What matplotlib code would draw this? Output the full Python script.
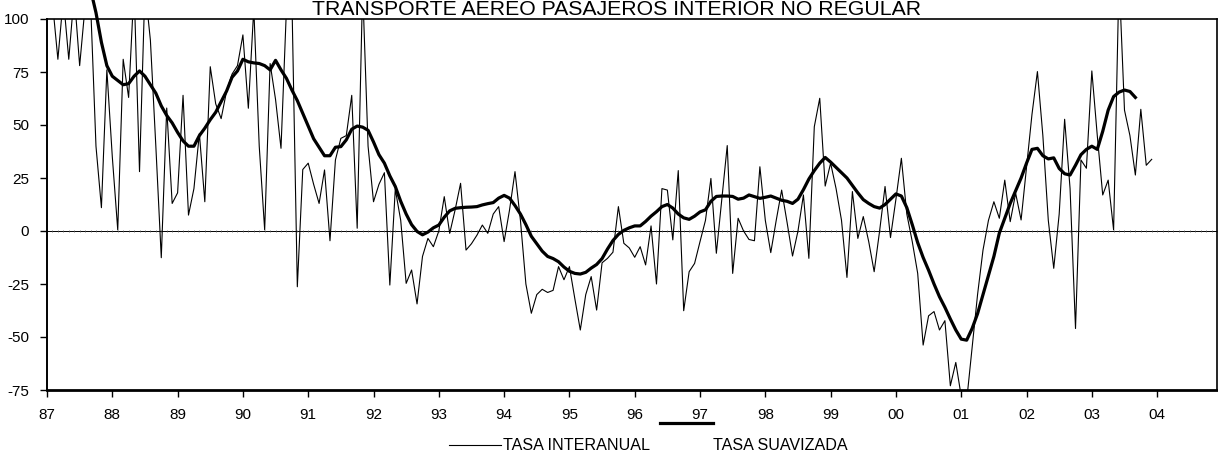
import numpy as np
import matplotlib
matplotlib.use("Agg")
import matplotlib.pyplot as plt
from matplotlib.lines import Line2D

plt.rcParams['font.family'] = ['Liberation Sans', 'DejaVu Sans']

# tasa interanual mensual, ene-87 .. dic-03
tasa_interanual = [
    112, 108, 81, 110, 81, 112, 78, 106, 108, 40,
    11, 76, 35, 0.5, 81, 63, 115, 28, 115, 90,
    40, -12.6, 58, 13, 18, 64, 7.5, 20, 46, 13.8,
    77.5, 60, 53, 66, 74, 78, 92.5, 57.9, 105, 40,
    0.5, 79, 62, 39, 105, 110, -26.3, 29, 32, 22,
    13, 28.8, -4.6, 33.5, 43.7, 45, 64, 1.3, 115, 40,
    13.8, 22, 27.5, -25.5, 19.7, 5, -24.7, -18.4, -34.4, -12,
    -3.5, -7.4, 0, 16.2, -1.1, 10, 22.5, -9, -6, -2,
    2.8, -1.1, 8, 11.5, -5, 10, 28, 5, -25, -38.8,
    -30, -27.5, -29, -28, -16.8, -23, -16.8, -32, -46.7, -30,
    -21.5, -37.3, -15, -12.9, -10, 11.5, -5.8, -8, -12.4, -7.4,
    -16, 2.4, -25, 20, 19.3, -4.2, 28.5, -37.6, -19.2, -15.3,
    -5, 5, 24.8, -10.5, 15, 40.3, -20, 6, 0, -4,
    -4.6, 30.3, 5, -10.2, 5, 19.3, 4, -11.8, 0, 17,
    -12.9, 49.2, 62.6, 21.2, 32, 20, 5, -21.9, 18.6, -3.5,
    6.8, -5, -19.2, 0, 21, -3.1, 15, 34.3, 8, -5,
    -20, -53.8, -40, -38, -46.7, -42.3, -73, -62, -78, -80,
    -55, -30, -9, 5, 13.8, 6, 24, 4.4, 17.8, 5.2,
    30, 55, 75.2, 45, 5, -17.6, 8, 52.7, 20, -46,
    33.5, 29.6, 75.5, 45, 17, 24, 0.5, 120, 57, 45,
    26.4, 57.4, 31, 33.8,
]

# tasa suavizada, desde ago-87 hasta sep-03
inicio_suavizada = 7
tasa_suavizada = [
    125, 114, 103, 89, 78, 73, 71, 69, 69.5, 73,
    75.5, 73, 69, 65, 59, 54.5, 51, 46.5, 42.5, 40,
    40, 45, 48.5, 52.5, 56, 61, 66, 72.5, 75.5, 81,
    79.8, 79.3, 79, 78, 76, 80.5, 76, 72, 66.5, 61.5,
    55.5, 49.5, 43.5, 39.5, 35.5, 35.5, 39.5, 39.8, 43, 48,
    49.5, 49, 47.5, 42, 36, 32, 26, 21, 14, 8,
    3, -0.2, -1.8, -0.5, 1.5, 2.8, 6.5, 9.5, 10.7, 11,
    11.2, 11.3, 11.5, 12.3, 12.9, 13.4, 15.5, 16.8, 15.5, 12,
    8, 3, -2.5, -6, -9.5, -12, -13, -14.5, -17, -19,
    -20, -20.3, -19.5, -17.5, -15.8, -13, -8.5, -4.5, -1.6, 0.3,
    1.5, 2.4, 2.4, 4.5, 7, 9.1, 11.5, 12.5, 10.8, 8,
    6.2, 5.5, 7, 9, 10, 14, 16.3, 16.5, 16.5, 16.3,
    15, 15.5, 17, 16.2, 15.4, 15.9, 16.5, 15.5, 14.5, 14,
    13, 15, 19.5, 24.5, 28.5, 32, 34.7, 32.5, 30, 27.5,
    25, 21.5, 18, 14.8, 13, 11.5, 10.8, 12.5, 15, 17.5,
    16.5, 11, 3, -5.5, -12.5, -18.5, -25, -31, -36, -41.5,
    -46.7, -51, -51.5, -46, -39, -30, -21, -12, -1, 6,
    13, 19, 25, 32, 38.5, 39, 35.5, 34, 34.5, 29.5,
    27, 26.4, 31, 36, 38.5, 40, 38.5, 47, 57, 63.4,
    65.5, 66.5, 65.8, 63,
]

anios = ['87', '88', '89', '90', '91', '92', '93', '94', '95',
         '96', '97', '98', '99', '00', '01', '02', '03', '04']
y_ticks = [-75, -50, -25, 0, 25, 50, 75, 100]

W, H = 1218, 457
fig = plt.figure(figsize=(W / 100, H / 100), dpi=100)
ax = fig.add_axes([47 / W, 1 - 390 / H, (1217 - 47) / W, (390 - 19) / H])

meses = np.arange(len(tasa_interanual))
meses_s = np.arange(inicio_suavizada, inicio_suavizada + len(tasa_suavizada))
x_max = 215

# eje en cero con marcas mensuales
ax.axhline(0, color='black', lw=0.7, zorder=1)
marcas = np.arange(0, x_max + 1)
ax.plot(marcas, np.zeros(len(marcas)), ls='none', marker='|', ms=1.6,
        mew=0.5, color='#555555', zorder=1)

ax.plot(meses, tasa_interanual, color='black', lw=0.8, zorder=2)
ax.plot(meses_s, tasa_suavizada, color='black', lw=2.3, zorder=3,
        clip_on=False, solid_joinstyle='round')

ax.set_xlim(0, x_max)
ax.set_ylim(-75, 100)
ax.set_xticks(np.arange(len(anios)) * 12)
ax.set_xticklabels(anios)
ax.set_yticks(y_ticks)
ax.set_yticklabels([str(v) for v in y_ticks])
ax.tick_params(axis='both', direction='out', length=5, width=1,
               labelsize=11, color='black')
ax.tick_params(axis='x', pad=8)
ax.tick_params(axis='y', pad=8)

for side in ['top', 'right']:
    ax.spines[side].set_linewidth(1.2)
ax.spines['left'].set_linewidth(1.4)
ax.spines['bottom'].set_linewidth(2)

fig.text(617 / W, 1 - 15 / H, 'TRANSPORTE AEREO PASAJEROS INTERIOR NO REGULAR',
         ha='center', va='baseline', fontsize=15.3)

# leyenda dibujada a mano
fig.add_artist(Line2D([449 / W, 501 / W], [1 - 445 / H] * 2, color='black', lw=0.8))
fig.text(503 / W, 1 - 445 / H, 'TASA INTERANUAL', ha='left', va='center', fontsize=11.6)
fig.add_artist(Line2D([660 / W, 713 / W], [1 - 423 / H] * 2, color='black', lw=2.3))
fig.text(713 / W, 1 - 445 / H, 'TASA SUAVIZADA', ha='left', va='center', fontsize=11.6)

fig.savefig('out.png', dpi=100)
